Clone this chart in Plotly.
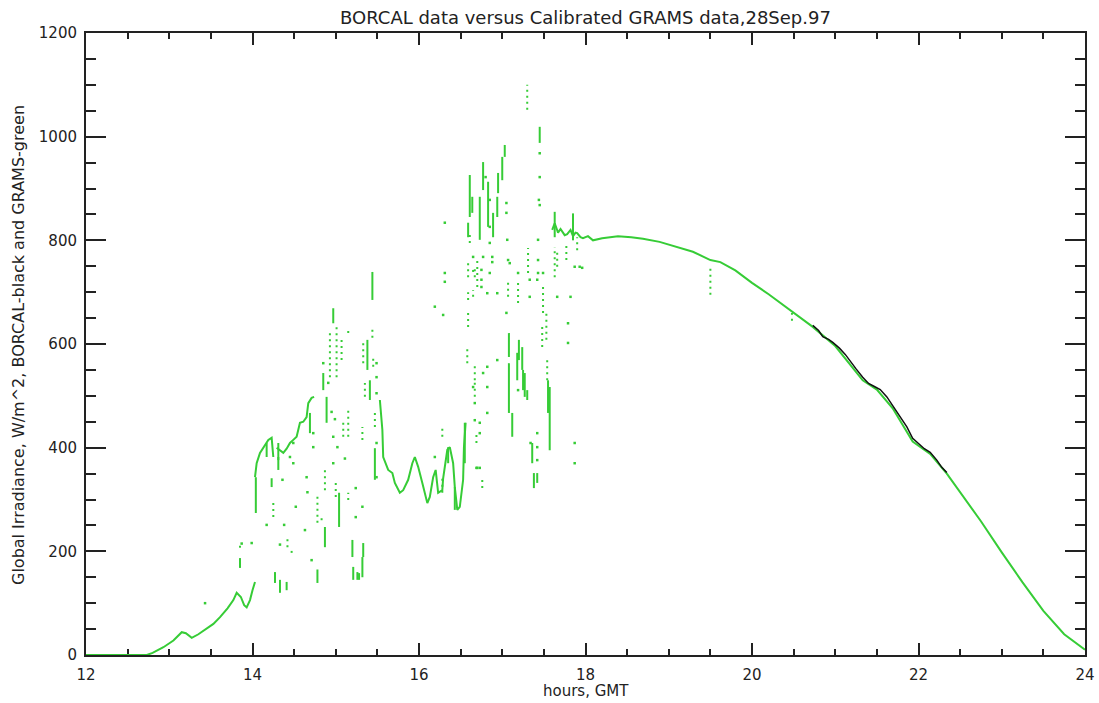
import plotly.graph_objects as go

# ---------------- data ----------------
# continuous GRAMS (green) path, segments
seg1_h = [12.0, 12.73, 12.8, 12.93, 13.05, 13.15, 13.2, 13.27, 13.35, 13.45, 13.53, 13.61, 13.7, 13.77, 13.81, 13.86, 13.9, 13.93, 13.97, 14.0, 14.03]
seg1_v = [0, 0, 4, 15, 28, 44, 42, 33, 40, 52, 60, 73, 90, 106, 120, 112, 96, 92, 106, 125, 141]

seg2_h = [14.03, 14.05, 14.09, 14.13, 14.19, 14.23, 14.25]
seg2_v = [343, 370, 390, 401, 415, 419, 382]

seg3_h = [14.29, 14.33, 14.37, 14.41, 14.45, 14.49, 14.53, 14.57, 14.61, 14.65, 14.67, 14.71, 14.74]
seg3_v = [400, 395, 390, 398, 409, 415, 421, 448, 450, 459, 486, 496, 498]

seg4_h = [15.53, 15.56, 15.57, 15.63, 15.68, 15.71, 15.77, 15.81, 15.87, 15.92, 15.95, 15.99, 16.04, 16.10, 16.13,
          16.17, 16.20, 16.23, 16.28, 16.29, 16.34, 16.37, 16.41, 16.43, 16.46, 16.49, 16.53, 16.54, 16.56]
seg4_v = [492, 434, 382, 357, 351, 332, 313, 318, 338, 370, 382, 363, 332, 293, 305,
          343, 357, 313, 318, 341, 396, 401, 370, 324, 280, 286, 338, 401, 448]

seg5_h = [17.60, 17.63, 17.67, 17.70, 17.75, 17.78, 17.82, 17.85, 17.88, 17.90, 17.94, 17.97, 18.03, 18.09, 18.2,
          18.39, 18.55, 18.69, 18.89, 19.10, 19.29, 19.50, 19.62, 19.8, 20.0, 20.2, 20.34, 20.5, 20.73, 21.0,
          21.18, 21.33, 21.5, 21.69, 21.93, 22.14, 22.34, 22.5, 22.75, 23.0, 23.25, 23.5, 23.75, 24.0]
seg5_v = [820, 833, 815, 822, 810, 812, 820, 808, 815, 814, 806, 804, 808, 800, 804,
          808, 806, 803, 797, 787, 778, 762, 758, 742, 718, 696, 679, 660, 633, 596,
          561, 530, 512, 476, 412, 388, 350, 314, 258, 198, 140, 85, 40, 10]

# dense vertical streaks of GRAMS samples: hour, low, high
dense_h  = [13.85, 14.04, 14.17, 14.31, 14.23, 14.27, 14.33, 14.41, 14.31, 14.69, 14.89, 14.85, 14.97, 14.78, 14.87,
            15.04, 15.20, 15.21, 15.26, 15.28, 15.32, 15.33, 15.38, 15.41, 15.44, 15.47, 16.35, 16.43, 16.55,
            16.61, 16.64, 16.77, 16.73, 16.83, 16.89, 16.95, 17.00, 17.03, 16.94, 16.59, 17.08, 17.08, 17.12,
            17.18, 17.20, 17.24, 17.25, 17.27, 17.30, 17.36, 17.38, 17.42, 17.45, 17.55, 17.57, 17.63, 17.85]
dense_lo = [168, 274, 382, 376, 324, 139, 120, 125, 357, 428, 448, 511, 640, 139, 208,
            247, 189, 145, 145, 145, 150, 189, 550, 492, 685, 338, 370, 280, 370,
            845, 853, 897, 801, 826, 806, 891, 916, 961, 845, 806, 575, 467, 421,
            530, 569, 550, 511, 498, 492, 370, 322, 332, 988, 467, 395, 806, 800]
dense_hi = [187, 343, 409, 409, 341, 160, 145, 141, 382, 467, 498, 544, 669, 165, 247,
            313, 222, 170, 160, 158, 189, 216, 608, 530, 739, 399, 401, 324, 448,
            926, 884, 951, 884, 913, 853, 930, 961, 984, 884, 834, 621, 563, 467,
            583, 608, 594, 550, 544, 511, 409, 351, 351, 1019, 530, 517, 855, 852]

# sparse (broken) streaks: hour, low, high
sparse_h  = [13.85, 14.25, 14.42, 14.47, 14.78, 14.83, 14.87, 14.93, 15.01, 15.07, 15.15, 15.09, 15.15, 15.00,
             15.15, 15.32, 15.33, 15.35, 15.45, 15.47, 15.44, 16.28, 16.28, 16.59, 16.59, 16.59, 16.67, 16.67,
             16.58, 16.65, 16.65, 16.70, 17.07, 17.19, 17.30, 17.31, 17.49, 17.53, 17.48, 17.54, 17.63, 17.66,
             17.77, 17.90, 19.50, 20.48, 16.76, 16.69, 16.67, 16.61]
sparse_lo = [207, 266, 208, 197, 255, 260, 318, 536, 536, 569, 621, 421, 421, 305,
             299, 415, 563, 498, 556, 440, 612, 421, 313, 633, 685, 729, 729, 530,
             563, 691, 739, 710, 691, 679, 1052, 737, 660, 608, 594, 530, 729, 749,
             762, 781, 695, 645, 322, 409, 498, 795]
sparse_hi = [216, 295, 228, 206, 313, 270, 363, 627, 640, 608, 633, 453, 473, 338,
             313, 440, 602, 525, 575, 473, 633, 440, 343, 665, 700, 756, 749, 565,
             594, 704, 747, 768, 724, 724, 1100, 785, 710, 660, 633, 569, 787, 776,
             795, 806, 749, 660, 338, 428, 530, 814]

# isolated GRAMS samples
dot_h = [13.43, 13.87, 13.99, 14.17, 14.45, 14.49, 14.49, 14.52, 14.63, 14.65, 14.66, 14.71, 14.73, 14.73, 14.85,
         14.91, 14.95, 14.99, 14.97, 14.97, 15.02, 14.33, 14.38, 14.36, 15.24, 15.24, 15.32, 15.49, 15.49, 15.49,
         15.49, 15.49, 16.19, 16.29, 16.31, 16.31, 16.31, 16.19, 16.65, 16.67, 16.67, 16.69, 16.65, 16.73, 16.73,
         16.73, 16.82, 16.80, 16.85, 16.85, 16.85, 16.88, 16.88, 16.85, 16.77, 16.82, 16.82, 16.82, 16.94, 16.94,
         17.05, 17.05, 17.06, 17.07, 17.09, 17.05, 16.77, 16.75, 16.75, 16.75, 17.19, 17.19, 17.33, 17.33, 17.34,
         17.42, 17.42, 17.42, 17.44, 17.45, 17.45, 17.45, 17.43, 17.43, 17.43, 17.42, 17.49, 17.66, 17.79, 17.79,
         17.87, 17.87, 17.82, 17.87, 17.93, 17.96, 15.11, 16.70]
dot_v = [100, 215, 216, 251, 382, 370, 409, 286, 241, 343, 314, 183, 401, 428, 563,
         525, 469, 455, 421, 370, 401, 213, 251, 338, 322, 266, 286, 563, 536, 505,
         409, 343, 672, 656, 737, 720, 834, 382, 768, 453, 486, 361, 517, 448, 428,
         361, 698, 922, 878, 826, 795, 768, 758, 737, 544, 556, 517, 467, 569, 698,
         872, 853, 801, 762, 756, 660, 768, 743, 724, 710, 737, 511, 724, 691, 409,
         428, 401, 376, 878, 868, 968, 922, 801, 762, 737, 724, 737, 691, 640, 602,
         409, 370, 691, 749, 749, 747, 379, 361]

# BORCAL (black) reference
bor_h = [20.73, 20.80, 20.85, 20.92, 20.97, 21.05, 21.12, 21.18, 21.25, 21.33, 21.40, 21.47, 21.54, 21.62, 21.69,
         21.78, 21.86, 21.93, 22.0, 22.07, 22.14, 22.22, 22.28, 22.34]
bor_v = [636, 626, 614, 609, 603, 592, 580, 566, 552, 536, 524, 518, 512, 498, 481,
         460, 440, 418, 408, 398, 391, 376, 362, 352]

# ---------------- build figure ----------------
GREEN = "#36cc36"
INK = "#222222"
FONT = "DejaVu Sans"


def join(*segs):
    xs, ys = [], []
    for hs, vs in segs:
        xs += list(hs) + [None]
        ys += list(vs) + [None]
    return xs, ys


def streaks(hs, los, his):
    xs, ys = [], []
    for h, lo, hi in zip(hs, los, his):
        xs += [h, h, None]
        ys += [lo, hi, None]
    return xs, ys


fig = go.Figure()

mx, my = join((seg1_h, seg1_v), (seg2_h, seg2_v), (seg3_h, seg3_v), (seg4_h, seg4_v), (seg5_h, seg5_v))
fig.add_trace(go.Scatter(x=mx, y=my, mode="lines", line=dict(color=GREEN, width=2), hoverinfo="skip"))

dx, dy = streaks(dense_h, dense_lo, dense_hi)
fig.add_trace(go.Scatter(x=dx, y=dy, mode="lines", line=dict(color=GREEN, width=2), hoverinfo="skip"))

sx, sy = streaks(sparse_h, sparse_lo, sparse_hi)
fig.add_trace(go.Scatter(x=sx, y=sy, mode="lines", line=dict(color=GREEN, width=2, dash="2px,4px"), hoverinfo="skip"))

fig.add_trace(go.Scatter(x=dot_h, y=dot_v, mode="markers",
                         marker=dict(color=GREEN, size=2.5, symbol="square", line=dict(width=0)), hoverinfo="skip"))

fig.add_trace(go.Scatter(x=bor_h, y=bor_v, mode="lines", line=dict(color="#111111", width=1.5), hoverinfo="skip"))

tickfont = dict(family=FONT, size=15, color=INK)
fig.update_xaxes(range=[12, 24], tick0=12, dtick=2, ticks="inside", ticklen=12, tickwidth=1.5, tickcolor=INK,
                 showline=True, linecolor=INK, linewidth=2, mirror="allticks", showgrid=False, zeroline=False,
                 minor=dict(dtick=0.5, ticks="inside", ticklen=6, tickwidth=1.5, tickcolor=INK, showgrid=False),
                 tickfont=tickfont, ticklabelstandoff=5, layer="below traces", automargin=False)
fig.update_yaxes(range=[0, 1200], tick0=0, dtick=200, ticks="inside", ticklen=20, tickwidth=1.5, tickcolor=INK,
                 showline=True, linecolor=INK, linewidth=2, mirror="allticks", showgrid=False, zeroline=False,
                 minor=dict(dtick=50, ticks="inside", ticklen=10, tickwidth=1.5, tickcolor=INK, showgrid=False),
                 tickfont=tickfont, ticklabelstandoff=4, layer="below traces", automargin=False)

fig.update_layout(
    width=1099, height=703,
    margin=dict(l=86, r=14, t=33, b=48, autoexpand=False),
    paper_bgcolor="white", plot_bgcolor="white",
    showlegend=False,
    annotations=[
        dict(text="BORCAL data versus Calibrated GRAMS data,28Sep.97", xref="paper", yref="paper",
             x=0.5, y=1 + 16 / 622, xanchor="center", yanchor="middle", showarrow=False,
             font=dict(family=FONT, size=18, color=INK)),
        dict(text="hours, GMT", xref="paper", yref="paper", x=0.5, y=-36 / 622,
             xanchor="center", yanchor="middle", showarrow=False, font=dict(family=FONT, size=15, color=INK)),
        dict(text="Global Irradiance, W/m^2, BORCAL-black and GRAMS-green", xref="paper", yref="paper",
             x=(18 - 86) / 999, y=(655 - 345) / 622, xanchor="center", yanchor="middle", textangle=-90,
             showarrow=False, font=dict(family=FONT, size=16, color=INK)),
    ],
)

fig.write_html("out.html", config={"displayModeBar": False},
               post_script="document.body.style.margin='0';document.body.style.overflow='hidden';")
